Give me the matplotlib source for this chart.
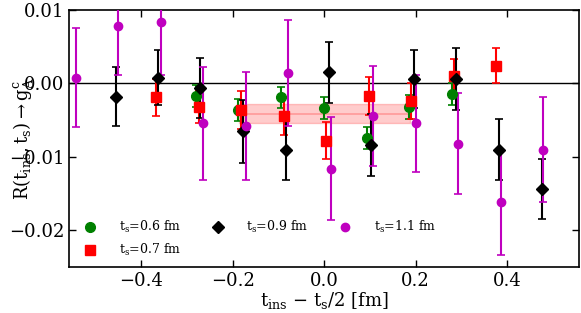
import numpy as np
import matplotlib
matplotlib.use("Agg")
import matplotlib.pyplot as plt

plt.rcParams['font.family'] = ['DejaVu Serif']
plt.rcParams['mathtext.fontset'] = 'dejavuserif'

# ts = 0.6 fm
x06 = [-0.281, -0.188, -0.095, -0.001, 0.093, 0.185, 0.279]
y06 = [-0.0017, -0.0036, -0.0019, -0.0033, -0.0074, -0.0032, -0.0015]
e06 = [0.0015, 0.0015, 0.0014, 0.0015, 0.0015, 0.0016, 0.0015]

# ts = 0.7 fm
x07 = [-0.368, -0.274, -0.181, -0.088, 0.004, 0.098, 0.191, 0.284, 0.377]
y07 = [-0.0019, -0.0032, -0.0036, -0.0044, -0.0078, -0.0017, -0.0024, 0.0010, 0.0024]
e07 = [0.0025, 0.0022, 0.0026, 0.0026, 0.0025, 0.0026, 0.0024, 0.0023, 0.0024]

# ts = 0.9 fm
x09 = [-0.456, -0.363, -0.271, -0.177, -0.084, 0.010, 0.102, 0.196, 0.288, 0.382, 0.476]
y09 = [-0.0018, 0.0008, -0.0006, -0.0065, -0.0090, 0.0015, -0.0084, 0.0006, 0.0006, -0.0090, -0.0144]
e09 = [0.0040, 0.0037, 0.0041, 0.0043, 0.0042, 0.0042, 0.0042, 0.0039, 0.0042, 0.0041, 0.0041]

# ts = 1.1 fm
x11 = [-0.544, -0.451, -0.358, -0.266, -0.172, -0.079, 0.014, 0.107, 0.201, 0.293, 0.386, 0.479]
y11 = [0.0008, 0.0078, 0.0084, -0.0054, -0.0058, 0.0014, -0.0116, -0.0044, -0.0054, -0.0082, -0.0162, -0.0090]
e11 = [0.0067, 0.0067, 0.0073, 0.0077, 0.0074, 0.0072, 0.0070, 0.0068, 0.0066, 0.0069, 0.0072, 0.0072]

# fit band
band_x = [-0.186, 0.188]
band_c = -0.0041
band_e = 0.00135

fig = plt.figure(figsize=(5.81, 3.13), dpi=100)
ax = fig.add_axes([0.119, 0.147, 0.877, 0.821])

ax.axhline(0.0, color='black', lw=1.0, zorder=1)
ax.fill_between(band_x, band_c - band_e, band_c + band_e, color='red', alpha=0.2, lw=1, zorder=1)
ax.plot(band_x, [band_c, band_c], color='red', alpha=0.25, lw=1.2, zorder=1)

series = [
    (x06, y06, e06, 'o', 'green', 7, r'$\mathrm{t_s}$=0.6 fm'),
    (x07, y07, e07, 's', 'red', 6.5, r'$\mathrm{t_s}$=0.7 fm'),
    (x09, y09, e09, 'D', 'black', 6.5, r'$\mathrm{t_s}$=0.9 fm'),
    (x11, y11, e11, 'o', 'm', 6, r'$\mathrm{t_s}$=1.1 fm'),
]
handles = []
for x, y, e, m, c, ms, lab in series:
    cont = ax.errorbar(x, y, yerr=e, fmt=m, color=c, ms=ms, mec=c,
                       capsize=3, elinewidth=1.5, capthick=1.2, label=lab, zorder=3)
    handles.append(cont[0])

ax.set_xlim(-0.558, 0.557)
ax.set_ylim(-0.025, 0.01)
ax.set_xticks([-0.4, -0.2, 0.0, 0.2, 0.4])
ax.set_yticks([0.01, 0.0, -0.01, -0.02])
ax.set_xticklabels(['\u22120.4', '\u22120.2', '0.0', '0.2', '0.4'])
ax.set_yticklabels(['0.01', '0.00', '\u22120.01', '\u22120.02'])
ax.tick_params(direction='in', top=True, right=True, labelsize=13, length=5, width=1)
for s in ax.spines.values():
    s.set_linewidth(1.2)

ax.set_xlabel(r'$\mathrm{t_{ins}}$ $-$ $\mathrm{t_s/2}$ [fm]', fontsize=13, labelpad=0)
ax.set_ylabel(r'$\mathrm{R(t_{ins},t_s)} \rightarrow \mathrm{g_A^c}$', fontsize=13, labelpad=-19)

ax.legend(handles=handles, labels=[s[6] for s in series], loc='lower left', ncol=3,
          frameon=False, numpoints=1, fontsize=9, handletextpad=1.3, labelspacing=0.55,
          columnspacing=1.9, borderaxespad=0.3, bbox_to_anchor=(0.0, 0.0))

fig.savefig('out.png', dpi=100)
